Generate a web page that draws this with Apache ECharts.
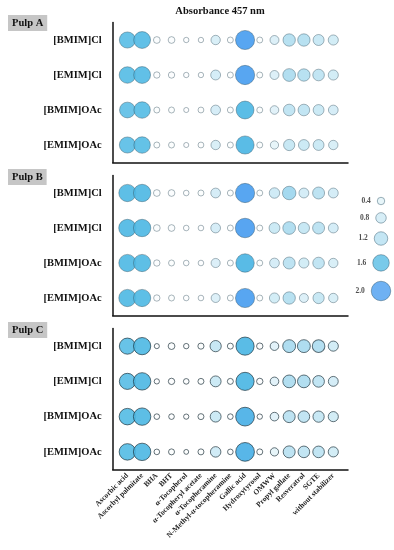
<!DOCTYPE html>
<html><head><meta charset="utf-8">
<script src="https://cdn.jsdelivr.net/npm/echarts@6/dist/echarts.min.js"></script>
<style>html,body{margin:0;padding:0;background:#fff}#c{width:394px;height:550px}</style>
</head><body><div id="c"></div>
<script>
const categories = ['Ascorbic acid','Ascorbyl palmitate','BHA','BHT','α-Tocopherol','α-Tocopheryl acetate','α-Tocopheramine','N-Methyl-α-tocopheramine','Gallic acid','Hydroxytyrosol','OMWW','Propyl gallate','Resveratrol','SGTE','without stabilizer'];
const solvents = ['[BMIM]Cl','[EMIM]Cl','[BMIM]OAc','[EMIM]OAc'];
const pulpNames = ['Pulp A','Pulp B','Pulp C'];
const legendValues = [0.4, 0.8, 1.2, 1.6, 2.0];

const pulpA_BMIMCl  = [1.55,1.65,0.3,0.3,0.12,0.12,0.65,0.2,1.95,0.2,0.6,1.05,1.05,0.87,0.75];
const pulpA_EMIMCl  = [1.6,1.65,0.25,0.25,0.12,0.12,0.72,0.2,1.97,0.2,0.6,1.1,1.05,0.95,0.75];
const pulpA_BMIMOAc = [1.5,1.6,0.2,0.2,0.08,0.18,0.7,0.2,1.78,0.2,0.55,0.95,0.95,0.85,0.7];
const pulpA_EMIMOAc = [1.55,1.6,0.2,0.2,0.08,0.18,0.65,0.2,1.82,0.2,0.5,0.9,0.85,0.85,0.65];

const pulpB_BMIMCl  = [1.7,1.72,0.3,0.3,0.15,0.2,0.7,0.2,1.97,0.2,0.8,1.2,0.72,1.0,0.72];
const pulpB_EMIMCl  = [1.72,1.72,0.3,0.3,0.15,0.15,0.7,0.2,2.0,0.2,0.85,1.1,0.9,1.0,0.72];
const pulpB_BMIMOAc = [1.7,1.7,0.25,0.2,0.15,0.15,0.62,0.2,1.86,0.2,0.7,1.0,0.75,0.95,0.65];
const pulpB_EMIMOAc = [1.7,1.7,0.25,0.2,0.15,0.15,0.6,0.2,1.96,0.2,0.75,1.05,0.6,0.9,0.65];

const pulpC_BMIMCl  = [1.55,1.7,0.08,0.3,0.12,0.22,0.9,0.2,1.82,0.25,0.55,1.12,1.12,1.08,0.75];
const pulpC_EMIMCl  = [1.55,1.72,0.1,0.25,0.15,0.2,0.85,0.2,1.82,0.25,0.55,1.1,1.1,0.95,0.72];
const pulpC_BMIMOAc = [1.6,1.72,0.15,0.15,0.1,0.2,0.85,0.15,1.9,0.12,0.55,1.0,0.95,0.9,0.75];
const pulpC_EMIMOAc = [1.6,1.72,0.15,0.2,0.05,0.2,0.8,0.15,1.9,0.2,0.5,1.0,0.95,0.95,0.75];

const pulps = [
  [pulpA_BMIMCl, pulpA_EMIMCl, pulpA_BMIMOAc, pulpA_EMIMOAc],
  [pulpB_BMIMCl, pulpB_EMIMCl, pulpB_BMIMOAc, pulpB_EMIMOAc],
  [pulpC_BMIMCl, pulpC_EMIMCl, pulpC_BMIMOAc, pulpC_EMIMOAc]
];

// colour scale stops (style)
const stops = [
  [0.0,[255,255,255]],[0.3,[251,253,254]],[0.6,[218,239,247]],[0.85,[200,232,244]],
  [1.05,[178,222,240]],[1.25,[150,211,237]],[1.5,[95,191,230]],[1.7,[80,186,228]],[1.89,[74,180,228]],
  [1.95,[74,158,240]],[2.1,[74,156,240]]
];
function colorFor(v){
  for(let i=1;i<stops.length;i++){
    if(v<=stops[i][0]){
      const [a,ca]=stops[i-1],[b,cb]=stops[i];
      const t=(v-a)/(b-a);
      const c=ca.map((x,k)=>Math.round(x+(cb[k]-x)*t));
      return 'rgb('+c.join(',')+')';
    }
  }
  return 'rgb(74,156,240)';
}
const legendColor = v => v < 1.5 ? colorFor(0.3 + 0.6*v) : colorFor(v);
const sizeFor = v => 4.5 + 7.5*v;
const serif = '"Liberation Serif","DejaVu Serif",serif';

const grids = [
  {left:112.7, width:235.3, top:22.5, height:140},
  {left:112.7, width:235.3, top:175.5, height:140},
  {left:112.7, width:235.3, top:328.5, height:141},
  {left:371, width:20, top:201, height:90}
];
const xCats = [''].concat(categories, ['']);
const endHide = (i) => i>0 && i<xCats.length-1;

const xAxes=[], yAxes=[], series=[], titles=[];
titles.push({text:'Absorbance 457 nm', left:215, top:1, textAlign:'center',
  textStyle:{fontFamily:serif, fontWeight:'bold', fontSize:10.5, color:'#111'}});
const labelTops=[15,169,322];
pulps.forEach((rows,p)=>{
  titles.push({text:pulpNames[p], left:8, top:labelTops[p], padding:[3,4,2,4], backgroundColor:'#c6c6c6',
    textStyle:{fontFamily:serif, fontWeight:'bold', fontSize:10.5, color:'#111'}});
  xAxes.push({gridIndex:p, type:'category', data:xCats, boundaryGap:false,
    axisLine:{lineStyle:{color:'#111', width:1.5}},
    axisTick:{length:4, interval:endHide, lineStyle:{color:'#111', width:1.2}},
    axisLabel: p===2 ? {show:true, interval:endHide, rotate:45, margin:5, fontFamily:serif, fontWeight:'bold', fontSize:7.5, color:'#222'} : {show:false},
    splitLine:{show:false}});
  yAxes.push({gridIndex:p, type:'category', data:solvents, inverse:true,
    axisLine:{lineStyle:{color:'#111', width:1.5}},
    axisTick:{alignWithLabel:true, length:4, lineStyle:{color:'#111', width:1.2}},
    axisLabel:{margin:11, fontFamily:serif, fontWeight:'bold', fontSize:10.5, color:'#111'},
    splitLine:{show:false}});
  const data=[];
  rows.forEach((vals,r)=>vals.forEach((v,c)=>data.push([c+1, r, v])));
  series.push({type:'scatter', xAxisIndex:p, yAxisIndex:p, data:data,
    symbolSize: d => sizeFor(d[2]),
    itemStyle:{color: pr => colorFor(pr.data[2]), opacity:0.92,
      borderColor: p===2 ? 'rgba(20,40,50,0.7)' : 'rgba(50,80,95,0.45)', borderWidth:1}});
});
// legend grid
const legendPos=[]; let acc=0;
legendValues.forEach((v,i)=>{ if(i>0) acc += (sizeFor(legendValues[i-1])+sizeFor(v))/2 + 4.5; legendPos.push(acc); });
xAxes.push({gridIndex:3, type:'value', min:0, max:1, show:false});
yAxes.push({gridIndex:3, type:'value', min:0, max:acc, inverse:true, show:false});
series.push({type:'scatter', xAxisIndex:3, yAxisIndex:3,
  data: legendValues.map((v,i)=>[0.5, legendPos[i], v]),
  symbolSize: d => sizeFor(d[2]),
  label:{show:true, position:'left', distance:6, formatter: pr => pr.data[2].toFixed(1),
    fontFamily:serif, fontWeight:'bold', fontSize:7.5, color:'#222'},
  itemStyle:{color: pr => legendColor(pr.data[2]), opacity:0.8, borderColor:'rgba(40,80,100,0.55)', borderWidth:1}});

const chart = echarts.init(document.getElementById('c'), null, {renderer:'canvas'});
chart.setOption({animation:false, backgroundColor:'#fff', title:titles, grid:grids, xAxis:xAxes, yAxis:yAxes, series:series});
</script></body></html>
